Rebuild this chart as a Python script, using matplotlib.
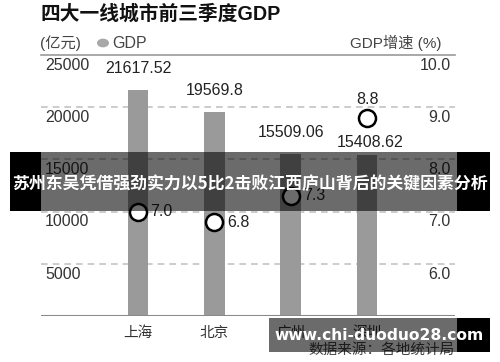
import matplotlib
matplotlib.use("Agg")
import matplotlib.pyplot as plt
from matplotlib.patches import Rectangle

plt.rcParams["font.family"] = ["Liberation Sans", "Noto Sans CJK SC", "DejaVu Sans"]

cities = ["上海", "北京", "广州", "深圳"]
gdp = [21617.52, 19569.8, 15509.06, 15408.62]
gdp_labels = ["21617.52", "19569.8", "15509.06", "15408.62"]
growth = [7.0, 6.8, 7.3, 8.8]
growth_labels = ["7.0", "6.8", "7.3", "8.8"]
left_ticks = [5000, 10000, 15000, 20000, 25000]
right_ticks = [6.0, 7.0, 8.0, 9.0, 10.0]

W, H = 500, 362
fig = plt.figure(figsize=(W / 100, H / 100), dpi=100)
fig.patch.set_facecolor("white")


def fx(px):
    return px / W


def fy(py):
    return 1 - py / H


ax = fig.add_axes([fx(41), fy(316), fx(414), (316 - 55) / H])
x = list(range(len(cities)))
ax.bar(x, gdp, width=0.27, color="#9a9a9a", zorder=2)
ax.set_xlim(-1.27, 4.15)
ax.set_ylim(0, 25000)
for s in ax.spines.values():
    s.set_visible(False)
ax.set_xticks([])
ax.set_yticks([])

for t in left_ticks[:-1]:
    ax.axhline(t, color="#c4c4c4", lw=1.2, ls=(0, (4, 3)), zorder=1)
ax.axhline(0, color="#8a8a8a", lw=1.5, zorder=3)
ax.axhline(25000, color="#9a9a9a", lw=1.2, zorder=3, clip_on=False)

for t in left_ticks:
    ax.annotate(str(t), xy=(0.01, t), xycoords=("axes fraction", "data"),
                xytext=(0, -2), textcoords="offset points",
                ha="left", va="top", fontsize=11.5, color="#333333")

ax2 = ax.twinx()
ax2.set_ylim(5, 10)
ax2.set_xlim(-1.27, 4.15)
for s in ax2.spines.values():
    s.set_visible(False)
ax2.set_yticks([])
for t in right_ticks:
    ax2.annotate(f"{t:.1f}", xy=(0.99, t), xycoords=("axes fraction", "data"),
                 xytext=(0, -2), textcoords="offset points",
                 ha="right", va="top", fontsize=11.5, color="#333333")

ax2.scatter(x, growth, s=150, facecolor="white", edgecolor="black",
            linewidth=1.8, zorder=5)

# value labels
gdp_offsets = [(0, 10), (0, 10), (0, 10), (2, 4)]
for xi, v, lab, off in zip(x, gdp, gdp_labels, gdp_offsets):
    ax.annotate(lab, xy=(xi, v), xytext=off, textcoords="offset points",
                ha="center", va="bottom", fontsize=11.5, color="#222222")

growth_offsets = [(9, 0, "left", "center"), (9, 0, "left", "center"),
                  (9, 0, "left", "center"), (0, 8, "center", "bottom")]
for xi, v, lab, (dx, dy, ha, va) in zip(x, growth, growth_labels, growth_offsets):
    ax2.annotate(lab, xy=(xi, v), xytext=(dx, dy), textcoords="offset points",
                 ha=ha, va=va, fontsize=11.5, color="#222222", zorder=6)

for xi, c in zip(x, cities):
    ax.annotate(c, xy=(xi, 0), xytext=(0, -7), textcoords="offset points",
                ha="center", va="top", fontsize=10.5, color="#333333",
                annotation_clip=False)

# header
fig.text(fx(40), fy(14), "四大一线城市前三季度GDP", ha="left", va="center",
         fontsize=14.2, fontweight="bold", color="#111111")
fig.text(fx(40), fy(43), "(亿元)", ha="left", va="center", fontsize=11, color="#444444")
fig.patches.append(plt.Circle((fx(103), fy(43)), 6 / W, transform=fig.transFigure,
                              facecolor="#a8a8a8", edgecolor="none"))
fig.text(fx(112), fy(43), "GDP", ha="left", va="center", fontsize=11.5, color="#444444")
fig.text(fx(441), fy(43), "GDP增速 (%)", ha="right", va="center", fontsize=11, color="#444444")

fig.text(fx(455), fy(350), "数据来源：各地统计局", ha="right", va="center",
         fontsize=10.5, color="#444444")

# overlay banner
fig.patches.append(Rectangle((fx(10), fy(211)), fx(31), (211 - 152) / H,
                             transform=fig.transFigure, facecolor="black", zorder=10))
fig.patches.append(Rectangle((fx(457), fy(211)), fx(33), (211 - 152) / H,
                             transform=fig.transFigure, facecolor="black", zorder=10))
fig.patches.append(Rectangle((fx(41), fy(211)), fx(416), (211 - 152) / H,
                             transform=fig.transFigure, facecolor="black", alpha=0.58,
                             zorder=10))
fig.text(fx(250), fy(184), "苏州东吴凭借强劲实力以5比2击败江西庐山背后的关键因素分析",
         ha="center", va="center", fontsize=12.2, fontweight="bold", color="white",
         family=["Noto Sans CJK SC", "DejaVu Sans"], zorder=11)

# watermark
fig.patches.append(Rectangle((fx(457), fy(352)), fx(33), (352 - 318) / H,
                             transform=fig.transFigure, facecolor="black", zorder=10))
fig.patches.append(Rectangle((fx(269), fy(352)), fx(188), (352 - 318) / H,
                             transform=fig.transFigure, facecolor="black", alpha=0.58,
                             zorder=10))
fig.text(fx(379), fy(335), "www.chi-duoduo28.com", ha="center", va="center",
         fontsize=11.2, fontweight="bold", color="white",
         family=["DejaVu Sans"], zorder=11)

fig.savefig("out.png", dpi=100)
